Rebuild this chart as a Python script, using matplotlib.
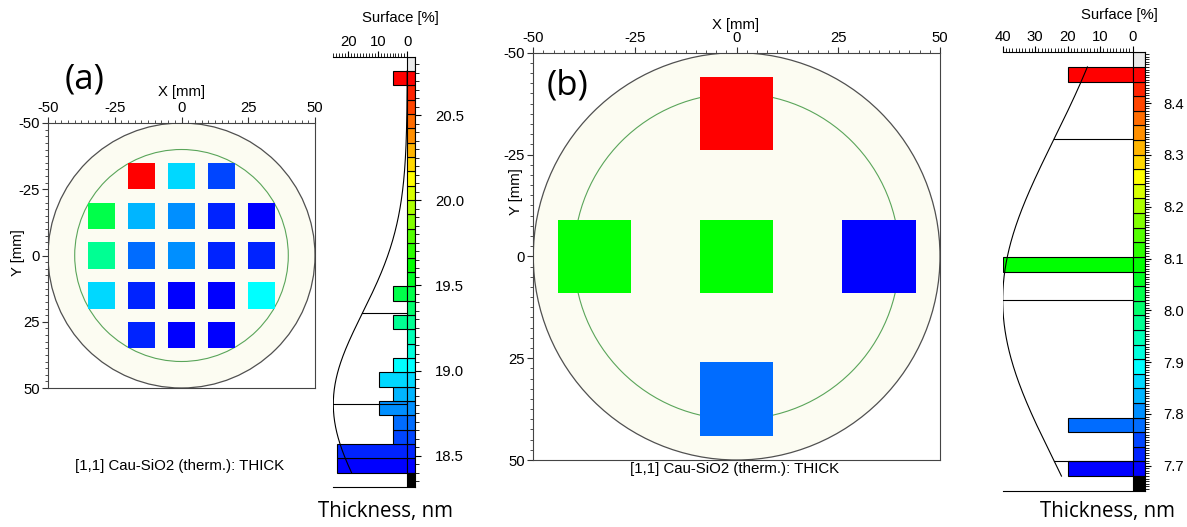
import numpy as np
import matplotlib
matplotlib.use("Agg")
import matplotlib.pyplot as plt
from matplotlib.patches import Circle, Rectangle
from matplotlib.colors import LinearSegmentedColormap
from matplotlib.ticker import MultipleLocator, FixedLocator, FormatStrFormatter

plt.rcParams["font.family"] = ["Liberation Sans", "DejaVu Sans"]
plt.rcParams["axes.unicode_minus"] = False

W, H = 1187, 527
N_BINS = 28

# Wafer (a): 21 measurement sites on a 15 mm grid, thickness in nm
a_x = [-15, 0, 15,
       -30, -15, 0, 15, 30,
       -30, -15, 0, 15, 30,
       -30, -15, 0, 15, 30,
       -15, 0, 15]
a_y = [-30] * 3 + [-15] * 5 + [0] * 5 + [15] * 5 + [30] * 3
a_thk = [20.76, 18.95, 18.61,
         19.45, 18.86, 18.78, 18.52, 18.45,
         19.28, 18.69, 18.77, 18.50, 18.54,
         18.93, 18.53, 18.42, 18.43, 19.03,
         18.51, 18.40, 18.44]

# Wafer (b): 5 measurement sites, thickness in nm
b_x = [0, -35, 0, 35, 0]
b_y = [-35, 0, 0, 0, 35]
b_thk = [8.47, 8.09, 8.08, 7.68, 7.78]

a_surface_ticks = [0, 10, 20]
b_surface_ticks = [0, 10, 20, 30, 40]
a_surface_max = 25
b_surface_max = 40
map_ticks = [-50, -25, 0, 25, 50]

caption = "[1,1] Cau-SiO2 (therm.): THICK"

cmap = LinearSegmentedColormap.from_list(
    "thk", [(0, "#0000ff"), (7 / 27, "#00ffff"), (14 / 27, "#00ff00"),
            (20 / 27, "#ffff00"), (1, "#ff0000")])
bin_colors = cmap(np.arange(N_BINS) / (N_BINS - 1))

fig = plt.figure(figsize=(W / 100, H / 100), dpi=100)


def rect(l, t, r, b):
    return [l / W, 1 - b / H, (r - l) / W, (b - t) / H]


def ftext(x, y, s, **kw):
    fig.text(x / W, 1 - y / H, s, ha="center", va="center", **kw)


def bin_edges(thk):
    thk = np.asarray(thk)
    return np.linspace(thk.min(), thk.max(), N_BINS + 1)


def wafer_map(ax, xs, ys, thk, size, edges):
    ax.set_xlim(-50, 50)
    ax.set_ylim(50, -50)
    ax.add_patch(Circle((0, 0), 50, facecolor="#fcfcf2", edgecolor="#505050",
                        lw=0.9, zorder=1))
    ax.add_patch(Circle((0, 0), 40, fill=False, edgecolor="#5aa55a",
                        lw=0.8, zorder=2))
    idx = np.digitize(thk, edges[1:-1])
    for x, y, i in zip(xs, ys, idx):
        ax.add_patch(Rectangle((x - size / 2, y - size / 2), size, size,
                               facecolor=bin_colors[i], edgecolor="none",
                               zorder=3))
    ax.set_xticks(map_ticks)
    ax.set_yticks(map_ticks)
    ax.xaxis.set_minor_locator(MultipleLocator(2.5))
    ax.yaxis.set_minor_locator(MultipleLocator(2.5))
    ax.tick_params(which="both", top=True, bottom=False, left=True,
                   right=False, labeltop=True, labelbottom=False,
                   direction="out", color="#333333", labelsize=10.7, pad=1.5)
    ax.tick_params(which="major", length=4.3, width=0.8)
    ax.tick_params(which="minor", length=2.4, width=0.6)
    for s in ax.spines.values():
        s.set_color("#444444")
        s.set_linewidth(0.8)


def surface_hist(ax, thk, edges, smax, cbw, sticks, major, minor, rpad):
    thk = np.asarray(thk)
    w = edges[1] - edges[0]
    counts, _ = np.histogram(thk, edges)
    pct = counts / len(thk) * 100
    mu, sd = thk.mean(), thk.std(ddof=1)
    lo, hi = edges[0] - w, edges[-1] + w

    # histogram bars growing to the left
    nz = pct > 0
    ax.barh(edges[:-1][nz], pct[nz], height=w, align="edge",
            color=bin_colors[nz], edgecolor="black", lw=0.8, zorder=2)
    # colour scale strip with under/over cells
    ax.barh(edges[:-1], -cbw, height=w, align="edge", color=bin_colors,
            edgecolor="black", lw=0.8, zorder=2.5)
    ax.barh([edges[-1]], -cbw, height=w, align="edge", color="#ebebeb",
            edgecolor="black", lw=0.8, zorder=2.5)
    ax.barh([lo], -cbw, height=w, align="edge", color="black",
            edgecolor="black", lw=0.8, zorder=2.5)

    # normal fit scaled to the axis width
    yy = np.linspace(edges[0], edges[-1], 300)
    ax.plot(smax * np.exp(-0.5 * ((yy - mu) / sd) ** 2), yy,
            color="black", lw=0.8, zorder=3)
    for level in (mu - sd, mu, mu + sd):
        if lo < level < hi:
            x0 = smax * np.exp(-0.5 * ((level - mu) / sd) ** 2)
            ax.plot([x0, 0], [level, level], color="black", lw=0.8, zorder=3)

    ax.set_xlim(smax, -cbw)
    ax.set_ylim(lo, hi)
    ax.set_xticks(sticks)
    ax.xaxis.set_minor_locator(FixedLocator(np.arange(0, smax + 0.5, 1)))
    ax.yaxis.set_major_locator(MultipleLocator(major))
    ax.yaxis.set_minor_locator(MultipleLocator(minor))
    ax.yaxis.set_major_formatter(FormatStrFormatter("%.1f"))
    ax.tick_params(axis="x", which="both", top=True, bottom=False,
                   labeltop=True, labelbottom=False, direction="out",
                   labelsize=10.7, pad=1.5)
    ax.tick_params(axis="y", which="both", left=False, right=True,
                   labelleft=False, labelright=True, direction="out",
                   labelsize=10.7, pad=rpad)
    ax.tick_params(which="major", length=4.3, width=0.8)
    ax.tick_params(which="minor", length=2.6, width=0.6)
    ax.spines["left"].set_visible(False)
    for s in ("top", "bottom", "right"):
        ax.spines[s].set_linewidth(0.8)


# ---- panel (a)
a_edges = bin_edges(a_thk)
ax_a = fig.add_axes(rect(48, 123, 315, 388))
wafer_map(ax_a, a_x, a_y, a_thk, 10, a_edges)
hx_a = fig.add_axes(rect(333.3, 56.7, 415, 487))
surface_hist(hx_a, a_thk, a_edges, a_surface_max, 2.6, a_surface_ticks,
             0.5, 0.05, 10)

# ---- panel (b)
b_edges = bin_edges(b_thk)
ax_b = fig.add_axes(rect(533.3, 52.7, 940, 460))
wafer_map(ax_b, b_x, b_y, b_thk, 18, b_edges)
hx_b = fig.add_axes(rect(1002.7, 52.3, 1145, 490.7))
surface_hist(hx_b, b_thk, b_edges, b_surface_max, 3.8, b_surface_ticks,
             0.1, 0.005, 9)

# ---- labels
ftext(181.5, 92, "X [mm]", fontsize=10.7)
ftext(18, 253, "Y [mm]", fontsize=10.7, rotation=90)
ftext(736, 25, "X [mm]", fontsize=10.7)
ftext(516, 192, "Y [mm]", fontsize=10.7, rotation=90)
ftext(400, 18, "Surface [%]", fontsize=10.7)
ftext(1119, 15, "Surface [%]", fontsize=10.7)
ftext(180, 466, caption, fontsize=10.8)
ftext(735, 469, caption, fontsize=10.8)
ftext(386, 512, "Thickness, nm", fontsize=14.8, family="Open Sans")
ftext(1107, 512, "Thickness, nm", fontsize=14.8, family="Open Sans")
ftext(85, 80, "(a)", fontsize=25, family="Open Sans")
ftext(567, 85, "(b)", fontsize=25, family="Open Sans")

fig.savefig("out.png", dpi=100)
